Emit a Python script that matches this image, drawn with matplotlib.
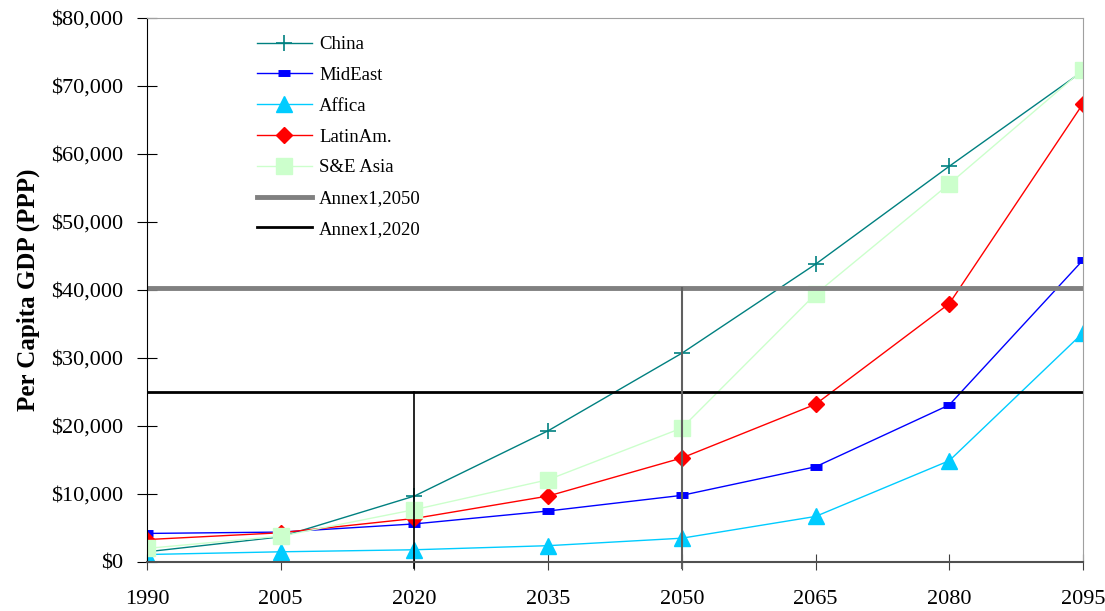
import matplotlib
matplotlib.use("Agg")
import matplotlib.pyplot as plt
from matplotlib.ticker import FuncFormatter

# ── data ──
years = [1990, 2005, 2020, 2035, 2050, 2065, 2080, 2095]
china = [1500, 3700, 9700, 19300, 30700, 43800, 58200, 72200]
mideast = [4200, 4400, 5600, 7500, 9800, 14000, 23100, 44400]
africa = [1100, 1500, 1800, 2400, 3500, 6700, 14900, 33700]
latinam = [3300, 4300, 6400, 9700, 15300, 23200, 38000, 67400]
se_asia = [2000, 3800, 7700, 12100, 19700, 39400, 55600, 72400]
annex1_2050 = 40300
annex1_2020 = 25000

plt.rcParams["font.family"] = ["Liberation Serif", "DejaVu Serif"]

fig = plt.figure(figsize=(11.05, 6.11), dpi=100)
ax = fig.add_axes([147 / 1105, 1 - 562 / 611, (1083 - 147) / 1105, (562 - 18) / 611])

ax.plot(years, china, color="#008080", lw=1, marker="+", ms=12, mew=1.2, label="China")
ax.plot(years, mideast, color="#0000ff", lw=1, marker="_", ms=8, mew=5, label="MidEast")
ax.plot(years, africa, color="#00ccff", lw=1, marker="^", ms=11, label="Affica")
ax.plot(years, latinam, color="#ff0000", lw=1, marker="D", ms=8.5, label="LatinAm.")
ax.plot(years, se_asia, color="#ccffcc", lw=1, marker="s", ms=11, label="S&E Asia")
ax.plot([years[0], years[-1]], [annex1_2050] * 2, color="#808080", lw=3.5, label="Annex1,2050")
ax.plot([years[0], years[-1]], [annex1_2020] * 2, color="black", lw=2, label="Annex1,2020")

# drop lines from the annex levels down to the axis
ax.plot([2050, 2050], [-900, annex1_2050], color="#606060", lw=1.5, clip_on=False)
ax.plot([2020, 2020], [-900, annex1_2020], color="black", lw=1.2, clip_on=False)

ax.set_xlim(1990, 2095)
ax.set_ylim(0, 80000)
ax.set_xticks(years)
ax.set_yticks(range(0, 80001, 10000))
ax.yaxis.set_major_formatter(FuncFormatter(lambda v, p: f"${v:,.0f}"))

ax.tick_params(axis="both", direction="inout", labelsize=16)
ax.tick_params(axis="x", length=12, pad=14, color="#404040")
ax.tick_params(axis="y", length=14, pad=10)

ax.spines["left"].set_color("black")
ax.spines["bottom"].set_color("#505050")
ax.spines["bottom"].set_linewidth(1.5)
ax.spines["top"].set_color("#a0a0a0")
ax.spines["right"].set_color("#a0a0a0")

ax.set_ylabel("Per Capita GDP (PPP)", fontsize=18, fontweight="bold", labelpad=8)

leg = ax.legend(loc="upper left", bbox_to_anchor=(0.0997, 0.998), frameon=False,
                fontsize=13.5, handlelength=2.9, labelspacing=0.73, handletextpad=0.4)

fig.savefig("out.png", dpi=100)
